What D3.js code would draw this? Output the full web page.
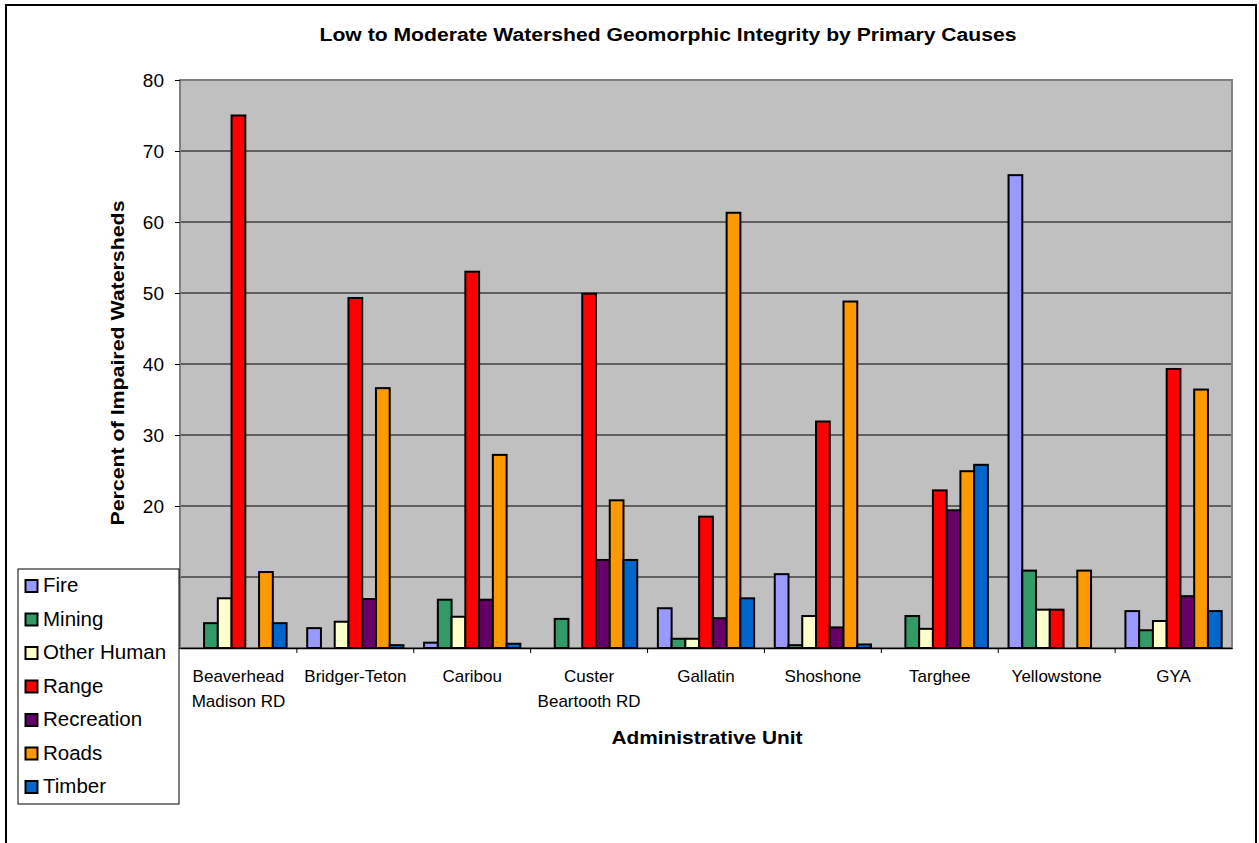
<!DOCTYPE html>
<html lang="en">
<head>
<meta charset="UTF-8">
<title>Low to Moderate Watershed Geomorphic Integrity</title>
<script src="https://d3js.org/d3.v7.min.js"></script>
<style>
  body { margin: 0; background: #fff; }
  svg { display: block; font-family: "Liberation Sans", Arial, sans-serif; }
</style>
</head>
<body>
<svg width="1259" height="843"></svg>
<script>
// categories and series
var units = ["Beaverhead\nMadison RD", "Bridger-Teton", "Caribou", "Custer\nBeartooth RD",
             "Gallatin", "Shoshone", "Targhee", "Yellowstone", "GYA"];
var causes = ["Fire", "Mining", "Other Human", "Range", "Recreation", "Roads", "Timber"];
var colors = ["#9999FF", "#339966", "#FFFFCC", "#FF0000", "#660066", "#FF9900", "#0066CC"];

// percent values per cause, one value per unit
var fire       = [0,    2.8, 0.75, 0,    5.6,  10.4, 0,    66.6, 5.2];
var mining     = [3.5,  0,   6.8,  4.1,  1.3,  0.4,  4.5,  10.9, 2.5];
var otherHuman = [7.0,  3.7, 4.4,  0,    1.3,  4.5,  2.7,  5.4,  3.8];
var range      = [75.0, 49.3, 53.0, 49.9, 18.5, 31.9, 22.2, 5.4, 39.3];
var recreation = [0,    6.9, 6.8,  12.4, 4.2,  2.9,  19.4, 0,    7.3];
var roads      = [10.7, 36.6, 27.2, 20.8, 61.3, 48.8, 24.9, 10.9, 36.4];
var timber     = [3.5,  0.4, 0.6,  12.4, 7.0,  0.5,  25.8, 0,    5.2];
var seriesValues = [fire, mining, otherHuman, range, recreation, roads, timber];

var yTicks = [0, 10, 20, 30, 40, 50, 60, 70, 80];

var svg = d3.select("svg");

// outer frame
svg.append("rect")
  .attr("x", 6).attr("y", 5).attr("width", 1250).attr("height", 850)
  .attr("fill", "#fff").attr("stroke", "#000").attr("stroke-width", 2);

var plotL = 180, plotR = 1232, plotT = 80, plotB = 648;

var x = d3.scaleBand().domain(units).range([plotL, plotR]).padding(0);
var bw = x.bandwidth() / 8.5;
var xs = d3.scaleBand().domain(causes).range([0.75 * bw, x.bandwidth() - 0.75 * bw]).padding(0);
var y = d3.scaleLinear().domain([0, 80]).range([plotB, plotT]);

// plot area
svg.append("rect")
  .attr("x", plotL).attr("y", plotT).attr("width", plotR - plotL).attr("height", plotB - plotT)
  .attr("fill", "#C0C0C0");

// gridlines
svg.append("g").selectAll("line")
  .data(yTicks.filter(function(d) { return d > 0 && d < 80; }))
  .enter().append("line")
  .attr("x1", plotL).attr("x2", plotR)
  .attr("y1", function(d) { return y(d); }).attr("y2", function(d) { return y(d); })
  .attr("stroke", "#000").attr("stroke-width", 1);

// plot border
svg.append("rect")
  .attr("x", plotL).attr("y", plotT).attr("width", plotR - plotL).attr("height", plotB - plotT)
  .attr("fill", "none").attr("stroke", "#808080").attr("stroke-width", 2);

// bars
var bars = [];
causes.forEach(function(c, i) {
  units.forEach(function(u, j) {
    if (seriesValues[i][j] > 0) bars.push({ unit: u, cause: c, value: seriesValues[i][j], color: colors[i] });
  });
});

svg.append("g").selectAll("rect")
  .data(bars)
  .enter().append("rect")
  .attr("x", function(d) { return x(d.unit) + xs(d.cause); })
  .attr("y", function(d) { return y(d.value); })
  .attr("width", xs.bandwidth())
  .attr("height", function(d) { return y(0) - y(d.value); })
  .attr("fill", function(d) { return d.color; })
  .attr("stroke", "#000").attr("stroke-width", 2);

// y axis (labels 0 and 10 end up under the legend, as in the original)
var yAxis = svg.append("g")
  .attr("transform", "translate(" + plotL + ",0)")
  .call(d3.axisLeft(y).tickValues(yTicks).tickSize(5).tickPadding(11));
yAxis.select(".domain").attr("stroke", "#808080").attr("stroke-width", 1);
yAxis.selectAll("text").attr("font-size", 19).attr("fill", "#000")
  .style("font-family", "Liberation Sans, Arial, sans-serif");

// x axis
var xAxis = svg.append("g")
  .attr("transform", "translate(0," + plotB + ")")
  .call(d3.axisBottom(x).tickSize(0).tickFormat(""));
xAxis.select(".domain").attr("stroke", "#000").attr("stroke-width", 1.5);

svg.append("g").selectAll("line")
  .data(units.slice(1))
  .enter().append("line")
  .attr("x1", function(d) { return x(d); }).attr("x2", function(d) { return x(d); })
  .attr("y1", plotB).attr("y2", plotB + 5)
  .attr("stroke", "#000");

var labels = svg.append("g").selectAll("text")
  .data(units)
  .enter().append("text")
  .attr("x", function(d) { return x(d) + x.bandwidth() / 2; })
  .attr("y", 682)
  .attr("text-anchor", "middle")
  .attr("font-size", 17);
labels.each(function(d) {
  var t = d3.select(this);
  d.split("\n").forEach(function(line, i) {
    t.append("tspan").attr("x", x(d) + x.bandwidth() / 2).attr("dy", i ? 25 : 0).text(line);
  });
});

// titles
svg.append("text")
  .attr("x", 668).attr("y", 41)
  .attr("text-anchor", "middle")
  .attr("font-size", 18).attr("font-weight", "bold")
  .attr("textLength", 697).attr("lengthAdjust", "spacingAndGlyphs")
  .text("Low to Moderate Watershed Geomorphic Integrity by Primary Causes");

svg.append("text")
  .attr("x", 707).attr("y", 744)
  .attr("text-anchor", "middle")
  .attr("font-size", 19).attr("font-weight", "bold")
  .attr("textLength", 191).attr("lengthAdjust", "spacingAndGlyphs")
  .text("Administrative Unit");

svg.append("text")
  .attr("transform", "translate(124,363) rotate(-90)")
  .attr("text-anchor", "middle")
  .attr("font-size", 19).attr("font-weight", "bold")
  .attr("textLength", 325).attr("lengthAdjust", "spacingAndGlyphs")
  .text("Percent of Impaired Watersheds");

// legend
var legend = svg.append("g");
legend.append("rect")
  .attr("x", 18).attr("y", 569).attr("width", 161).attr("height", 235)
  .attr("fill", "#fff").attr("stroke", "#000").attr("stroke-width", 1);

var items = legend.selectAll("g.item")
  .data(causes)
  .enter().append("g")
  .attr("class", "item")
  .attr("transform", function(d, i) { return "translate(0," + (592 + i * 33.5) + ")"; });
items.append("rect")
  .attr("x", 25.5).attr("y", -12).attr("width", 12).attr("height", 12)
  .attr("fill", function(d, i) { return colors[i]; })
  .attr("stroke", "#000").attr("stroke-width", 2);
items.append("text")
  .attr("x", 43).attr("y", 0)
  .attr("font-size", 20.5)
  .text(function(d) { return d; });
</script>
</body>
</html>
